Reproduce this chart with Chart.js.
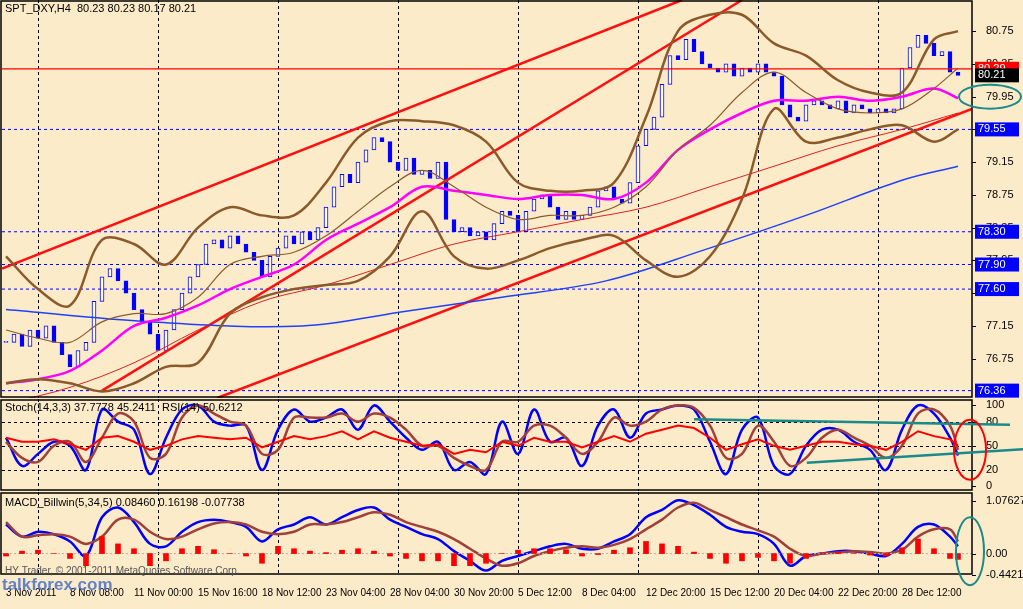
<!DOCTYPE html>
<html><head><meta charset="utf-8">
<script src="https://cdn.jsdelivr.net/npm/chart.js@4/dist/chart.umd.min.js"></script>
<style>
html,body{margin:0;padding:0;background:#fcebc9;width:1023px;height:609px;overflow:hidden}
.p{position:absolute;left:0;width:1023px}
</style></head><body>
<div class="p" style="top:0;height:398px"><canvas id="c1"></canvas></div>
<div class="p" style="top:398px;height:94px"><canvas id="c2"></canvas></div>
<div class="p" style="top:492px;height:117px"><canvas id="c3"></canvas></div>
<script>
// ---- data ----
const timeLabels=["3 Nov 2011","8 Nov 08:00","11 Nov 00:00","15 Nov 16:00","18 Nov 12:00","23 Nov 04:00","28 Nov 04:00","30 Nov 20:00","5 Dec 12:00","8 Dec 04:00","12 Dec 20:00","15 Dec 12:00","20 Dec 04:00","22 Dec 20:00","28 Dec 12:00"];
const closes=[76.95,77.05,76.90,77.10,77.00,77.15,76.95,76.80,76.65,76.85,76.95,77.45,77.75,77.85,77.70,77.55,77.35,77.20,77.05,76.85,
77.10,77.35,77.55,77.75,77.90,78.15,78.20,78.10,78.25,78.15,78.05,77.95,77.75,78.00,78.10,78.25,78.15,78.30,78.20,78.35,
78.60,78.85,79.00,78.90,79.15,79.30,79.45,79.40,79.15,79.05,79.20,79.00,79.05,78.95,79.15,78.45,78.30,78.35,78.25,78.30,
78.20,78.40,78.55,78.50,78.30,78.55,78.70,78.75,78.60,78.45,78.55,78.45,78.50,78.60,78.80,78.85,78.70,78.65,78.90,79.35,
79.55,79.70,80.10,80.45,80.40,80.65,80.50,80.35,80.30,80.25,80.35,80.20,80.30,80.25,80.35,80.25,80.20,79.85,79.70,79.65,
79.85,79.90,79.85,79.80,79.90,79.75,79.85,79.80,79.75,79.80,79.75,79.80,80.30,80.55,80.70,80.60,80.45,80.50,80.25,80.21];
const bandX=[0,4,8,12,16,20,24,28,32,36,40,44,48,52,56,60,64,68,72,76,80,84,88,92,96,100,104,108,112,116,119];
const bbUpper=[78.0,77.6,77.4,78.2,78.15,77.9,78.35,78.6,78.5,78.5,78.9,79.45,79.65,79.65,79.6,79.4,78.9,78.8,78.8,78.9,79.7,80.75,80.95,80.95,80.6,80.45,80.15,80.0,80.0,80.65,80.75];
const bbLower=[76.45,76.5,76.45,76.35,76.45,76.65,76.7,77.3,77.5,77.6,77.65,77.7,78.0,78.55,78.0,77.85,77.95,78.1,78.2,78.25,77.95,77.75,78.0,78.7,79.8,79.4,79.45,79.55,79.6,79.4,79.55];
const bbMid=[77.1,77.0,76.95,77.2,77.3,77.3,77.5,77.9,78.0,78.05,78.25,78.55,78.85,79.05,78.85,78.6,78.45,78.5,78.5,78.6,78.85,79.3,79.6,80.0,80.25,80.0,79.8,79.75,79.8,80.05,80.3];
const maMagenta=[76.45,76.5,76.6,76.85,77.15,77.25,77.4,77.6,77.75,77.9,78.2,78.4,78.6,78.85,78.8,78.75,78.7,78.75,78.75,78.7,78.9,79.3,79.55,79.75,79.9,79.9,79.95,79.9,79.95,80.05,79.93];
const slowRedX=[0,8,16,24,32,40,48,56,64,72,80,88,96,104,112,119];
const maRed=[76.2,76.4,76.7,77.1,77.45,77.65,77.9,78.15,78.3,78.45,78.6,78.85,79.1,79.35,79.55,79.75];
const blueMaX=[0,18,37,50,62,75,87,100,112,119];
const maBlue=[77.35,77.2,77.15,77.33,77.5,77.7,78.07,78.5,78.93,79.1];
const levelsBlue=[79.55,78.30,77.90,77.60,76.36];
const lastPrice=80.21, redLevel=80.29;
const priceTicks=[80.75,80.35,79.95,79.55,79.15,78.75,78.35,77.95,77.55,77.15,76.75];
const trendA=[[-0.5,77.85],[84.5,81.13]];
const trendB=[[12,76.36],[92,81.13]];
const trendC=[[26.4,76.27],[121,79.81]];
const oscX=[0,2,4,6,8,10,12,14,16,18,20,22,24,26,28,30,32,34,36,38,40,42,44,46,48,50,52,54,56,58,60,62,64,66,68,70,72,74,76,78,80,82,84,86,88,90,92,94,96,98,100,102,104,106,108,110,112,114,116,118,119];
const stochMain=[60,25,40,55,50,20,95,80,70,15,60,95,100,80,75,75,20,70,95,80,85,95,70,100,80,60,45,55,20,30,15,80,40,95,55,60,25,75,95,60,90,95,100,95,55,15,70,85,25,15,50,70,70,55,45,20,70,100,90,60,38];
const stochSignal=[55,35,30,50,55,30,60,90,80,35,40,85,100,90,80,75,40,45,85,85,85,90,80,90,85,70,50,50,35,25,20,55,55,75,75,60,40,55,85,75,80,95,100,97,75,35,40,75,55,25,35,60,70,60,50,35,50,90,95,75,45];
const rsi=[60,55,55,58,52,45,60,62,55,45,50,58,62,60,58,60,48,55,62,58,62,68,58,68,60,55,50,52,40,45,42,55,50,60,55,55,48,55,62,55,65,70,75,72,60,45,52,58,50,45,50,55,55,52,50,45,55,68,62,58,50];
const macdMain=[0.60,0.35,0.45,0.40,0.25,-0.05,0.75,0.95,0.65,0.20,0.15,0.45,0.65,0.70,0.65,0.55,0.25,0.50,0.60,0.75,0.60,0.75,0.90,0.95,0.70,0.55,0.40,0.30,0.05,-0.15,-0.35,-0.15,-0.05,0.05,0.15,0.20,0.10,0.10,0.25,0.40,0.75,0.90,1.10,1.00,0.80,0.55,0.45,0.40,0.20,-0.25,-0.05,0.00,0.05,0.05,0.00,-0.05,0.20,0.55,0.60,0.35,0.15];
const macdSignal=[0.65,0.35,0.38,0.40,0.35,0.20,0.35,0.70,0.70,0.45,0.30,0.35,0.50,0.62,0.65,0.60,0.45,0.40,0.45,0.60,0.60,0.65,0.75,0.85,0.80,0.65,0.55,0.45,0.30,0.10,-0.10,-0.25,-0.20,-0.05,0.05,0.12,0.15,0.12,0.18,0.30,0.50,0.70,0.95,1.05,0.90,0.75,0.60,0.48,0.35,0.10,-0.05,0.00,0.02,0.05,0.03,0.00,0.08,0.35,0.50,0.50,0.25];
const macdHist=[-0.05,0.05,0.07,0.00,-0.10,-0.25,0.35,0.20,0.10,-0.25,-0.15,0.10,0.15,0.08,0.00,-0.05,-0.20,0.15,0.10,0.05,0.02,0.07,0.10,0.05,-0.05,-0.10,-0.15,-0.15,-0.25,-0.25,-0.20,0.00,0.07,0.10,0.10,0.08,-0.05,-0.02,0.07,0.12,0.25,0.20,0.15,0.03,-0.10,-0.20,-0.15,-0.08,-0.15,-0.20,-0.10,0.00,0.03,0.00,-0.03,-0.05,0.12,0.30,0.10,-0.10,-0.12];
// ---- helpers ----
const FONT='"Liberation Sans"';
const XMIN=-0.5, XMAX=120.75;
const vGrid=[4,19,34,49,64,79,94,109];
const pts=(xs,ys)=>ys.map((y,i)=>({x:xs[i],y}));
const line=(data,color,w,extra)=>Object.assign({type:'line',data,borderColor:color,borderWidth:w,pointRadius:0,tension:0.35,fill:false},extra||{});
function xScale(showLabels){
 return {type:'linear',offset:false,min:XMIN,max:XMAX,grid:{display:false,offset:false},border:{display:false},
  afterBuildTicks:s=>{s.ticks=timeLabels.map((t,i)=>({value:i*8}));},
  afterFit:s=>{s.paddingLeft=0;s.paddingRight=0;},
  ticks:{display:showLabels,autoSkip:false,maxRotation:0,align:'start',font:{family:FONT,size:10},color:'#000',padding:4,
   callback:(v)=>timeLabels[Math.round(v/8)]}};
}
function yScale(min,max,ticks,fmt){
 return {type:'linear',position:'right',min,max,grid:{display:false},border:{display:false},
  afterFit:s=>{s.width=51;s.paddingTop=0;s.paddingBottom=0;},
  afterBuildTicks:s=>{s.ticks=ticks.map(v=>({value:v}));},
  ticks:{autoSkip:false,font:{family:FONT,size:11},color:'#000',padding:6,callback:fmt}};
}
const frame={id:'frame',beforeDatasetsDraw(c){const a=c.chartArea,x=c.ctx;x.save();x.strokeStyle='#000';x.setLineDash([3,3]);x.lineWidth=1;
  vGrid.forEach(k=>{const px=Math.round(c.scales.x.getPixelForValue(k))+0.5;x.beginPath();x.moveTo(px,a.top);x.lineTo(px,a.bottom);x.stroke();});
  (c.options.hGrid||[]).forEach(v=>{const py=Math.round(c.scales.y.getPixelForValue(v))+0.5;x.beginPath();x.moveTo(a.left,py);x.lineTo(a.right,py);x.stroke();});
  x.restore();},
 afterDraw(c){const a=c.chartArea,x=c.ctx;x.save();x.strokeStyle='#000';x.lineWidth=1.5;x.strokeRect(a.left-1,a.top+1,a.right-a.left+1,a.bottom-a.top-2);
  x.lineWidth=1;c.scales.y.ticks.forEach(t=>{const py=Math.round(c.scales.y.getPixelForValue(t.value))+0.5;x.beginPath();x.moveTo(a.right,py);x.lineTo(a.right+4,py);x.stroke();});x.restore();}};
function ellipse(c,cx,cy,rx,ry,col){const x=c.ctx;x.save();x.strokeStyle=col;x.lineWidth=2;x.beginPath();x.ellipse(cx,cy,rx,ry,0,0,Math.PI*2);x.stroke();x.restore();}
Chart.defaults.animation=false;Chart.defaults.responsive=true;Chart.defaults.maintainAspectRatio=false;
Chart.defaults.plugins.legend.display=false;Chart.defaults.plugins.tooltip.enabled=false;
// ---- main chart ----
const candle={type:'bar',data:closes.map((c,k)=>({x:k,y:[k?closes[k-1]:c,c]})),barThickness:4,
 backgroundColor:closes.map((c,k)=>c>=(k?closes[k-1]:c)?'#ffffff':'#0000ff'),borderColor:'#0000ff',borderWidth:1,borderSkipped:false,minBarLength:1,order:1};
const mainLabels={id:'mainLabels',afterDraw(c){const x=c.ctx,a=c.chartArea,y=c.scales.y;x.save();
 x.font='11px '+FONT;x.textBaseline='middle';
 const box=(v,bg,fg)=>{const py=y.getPixelForValue(v);x.fillStyle=bg;x.fillRect(a.right+3,py-7,44,14);x.fillStyle=fg;x.fillText(v.toFixed(2),a.right+6,py);};
 levelsBlue.forEach(v=>box(v,'#0000ff','#fff'));box(redLevel,'#ff0000','#fff');box(lastPrice,'#000','#fff');
 x.fillStyle='#000';x.fillText('SPT_DXY,H4  80.23 80.23 80.17 80.21',5,9);
 ellipse(c,c.scales.x.getPixelForValue(123),y.getPixelForValue(79.95),31,12,'#1a8a8a');
 x.restore();}};
new Chart(document.getElementById('c1'),{data:{datasets:[
 candle,
 line(pts(bandX,bbUpper),'#8b5a2b',2.5),line(pts(bandX,bbLower),'#8b5a2b',2.5),line(pts(bandX,bbMid),'#8b5a2b',1.2),
 line(pts(bandX,maMagenta),'#ff00ff',2.5),line(pts(slowRedX,maRed),'#e02020',1),line(pts(blueMaX,maBlue),'#2040ff',1.5),
 ...[trendA,trendB,trendC].map(t=>line(t.map(p=>({x:p[0],y:p[1]})),'#ff1010',2.5,{tension:0})),
 ...levelsBlue.map(v=>line([{x:XMIN,y:v},{x:XMAX,y:v}],'#0000ff',1,{borderDash:[3,3],tension:0})),
 line([{x:XMIN,y:redLevel},{x:XMAX,y:redLevel}],'#ff0000',1.2,{tension:0})
]},options:{layout:{padding:{left:2,top:0,bottom:0,right:0}},
 scales:{x:Object.assign(xScale(false),{display:false}),y:yScale(76.27,81.13,priceTicks,v=>v.toFixed(2))}},
 plugins:[frame,mainLabels]});
// ---- stochastic / RSI ----
const stochAnn={id:'stochAnn',afterDraw(c){const x=c.ctx,sx=c.scales.x,sy=c.scales.y;x.save();
 x.font='11px '+FONT;x.fillStyle='#000';x.textBaseline='middle';x.fillText('Stoch(14,3,3) 37.7778 45.2411  RSI(14) 50.6212',5,sy.getPixelForValue(97));
 x.strokeStyle='#1a8a8a';x.lineWidth=2.5;
 [[[86,83],[125.5,76]],[[100.1,29],[129,47]]].forEach(s=>{x.beginPath();x.moveTo(sx.getPixelForValue(s[0][0]),sy.getPixelForValue(s[0][1]));x.lineTo(sx.getPixelForValue(s[1][0]),sy.getPixelForValue(s[1][1]));x.stroke();});
 ellipse(c,sx.getPixelForValue(120.5),sy.getPixelForValue(45),16,30,'#ff0000');x.restore();}};
new Chart(document.getElementById('c2'),{data:{datasets:[
 line(pts(oscX,rsi),'#ff0000',2,{tension:0}),
 line(pts(oscX,stochSignal),'#a0403a',2.5),line(pts(oscX,stochMain),'#0000ff',2.5)
]},options:{hGrid:[80,50,20],layout:{padding:{left:2,top:1,bottom:1}},
 scales:{x:Object.assign(xScale(false),{display:false}),y:yScale(-6,108,[100,80,50,20,0],v=>String(v))}},
 plugins:[frame,stochAnn]});
// ---- MACD ----
const macdAnn={id:'macdAnn',afterDraw(c){const x=c.ctx,sx=c.scales.x,sy=c.scales.y;x.save();
 x.font='11px '+FONT;x.fillStyle='#000';x.textBaseline='middle';x.fillText('MACD_Billwin(5,34,5) 0.08460 0.16198 -0.07738',5,sy.getPixelForValue(1.05));
 x.fillStyle='#555';x.font='10px '+FONT;x.fillText('HY Trader, © 2001-2011 MetaQuotes Software Corp.',5,sy.getPixelForValue(-0.36));
 x.fillStyle='rgba(70,110,200,0.85)';x.font='bold 17px "Liberation Sans"';x.fillText('talkforex.com',2,c.chartArea.bottom+10);
 ellipse(c,sx.getPixelForValue(120.5),sy.getPixelForValue(0.05),14,34,'#1a8a8a');x.restore();}};
new Chart(document.getElementById('c3'),{data:{datasets:[
 {type:'bar',data:pts(oscX,macdHist),backgroundColor:'#ff0000',barThickness:5},
 line([{x:XMIN,y:0},{x:XMAX,y:0}],'#b0b0b0',1,{borderDash:[2,2],tension:0}),
 line(pts(oscX,macdSignal),'#a0403a',2.5),line(pts(oscX,macdMain),'#0000ff',2.5)
]},options:{layout:{padding:{left:2,top:0,bottom:6}},
 scales:{x:xScale(true),y:yScale(-0.442,1.27,[1.07627,0,-0.44218],v=>v===0?'0.00':String(v))}},
 plugins:[frame,macdAnn]});
</script></body></html>
